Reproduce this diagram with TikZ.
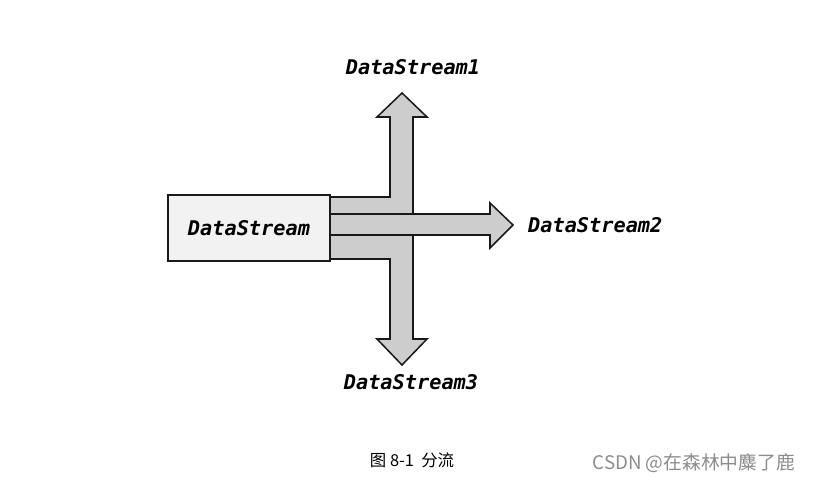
\documentclass[tikz,border=0pt]{standalone}
\usepackage{fontspec}
\newfontfamily\codefont{DejaVu Sans Mono}
\newfontfamily\cjk{Noto Sans CJK SC}
\usetikzlibrary{positioning}
\definecolor{flowgray}{RGB}{205,205,205}
\definecolor{boxgray}{RGB}{242,242,242}
\tikzset{
  lbl/.style={font=\codefont\bfseries\itshape\fontsize{17.3}{20}\selectfont},
  flow/.style={draw=black!90,line width=1.3pt,fill=flowgray,line join=miter}
}
\begin{document}
\begin{tikzpicture}[x=0.03cm,y=-0.03cm]
  \useasboundingbox (0,0) rectangle (813,482);
  % the three branches
  \draw[flow] (330,197) -- (390,197) -- (390,117) -- (377,117) -- (402,93) -- (427,117) -- (413,117) -- (413,214) -- (330,214) -- cycle;
  \draw[flow] (330,259) -- (390,259) -- (390,339) -- (377,339) -- (402,365) -- (427,339) -- (413,339) -- (413,235) -- (330,235) -- cycle;
  \draw[flow] (330,214) -- (490,214) -- (490,203) -- (513,225) -- (490,248) -- (490,235) -- (330,235) -- cycle;
  \node[draw=black!90,line width=1.3pt,fill=boxgray,minimum width=4.86cm,minimum height=1.98cm,lbl] (src) at (249,228) {DataStream};
  \node[lbl] (out1) at (413,67) {DataStream1};
  \node[lbl,anchor=west] (out2) at (524,225) {DataStream2};
  \node[lbl] (out3) at (411,382) {DataStream3};
  \node[font=\cjk\fontsize{14}{16}\selectfont] (cap) at (412,460) {图 8-1\ \ 分流};
  \node[font=\cjk\fontsize{16}{18}\selectfont,text=black!45,anchor=east] (mark) at (799,463) {CSDN @在森林中麋了鹿};
\end{tikzpicture}
\end{document}
